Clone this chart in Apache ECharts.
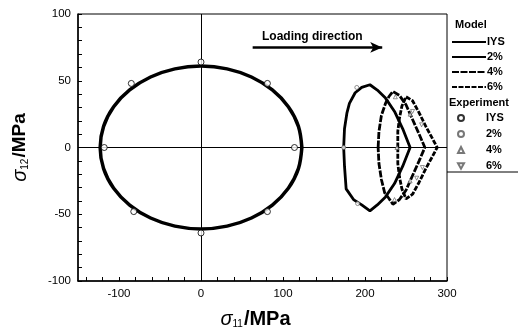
<!DOCTYPE html>
<html>
<head>
<meta charset="utf-8">
<script src="https://cdn.jsdelivr.net/npm/echarts@6/dist/echarts.min.js"></script>
<style>html,body{margin:0;padding:0;background:#fff}#c{width:518px;height:330px}</style>
</head>
<body>
<div id="c"></div>
<script>
// ---- data (sigma11, sigma12 in MPa) ----
const modelIYS = [[123,0],[118.8,15.8],[106.5,30.5],[87,43.1],[61.5,52.8],[31.8,58.9],[0,61],[-31.8,58.9],[-61.5,52.8],[-87,43.1],[-106.5,30.5],[-118.8,15.8],[-123,0],[-118.8,-15.8],[-106.5,-30.5],[-87,-43.1],[-61.5,-52.8],[-31.8,-58.9],[0,-61],[31.8,-58.9],[61.5,-52.8],[87,-43.1],[106.5,-30.5],[118.8,-15.8],[123,0]];
const model2 = [[174,0],[175,14],[178,26],[181,33],[188,41],[196,45],[206,47],[215,43],[225,37],[236,27],[246,14],[255,0],[246,-14],[236,-27],[225,-37],[215,-43],[206,-47.5],[196,-43],[186,-39],[177,-31],[175,-14],[174,0]];
const model4 = [[216,0],[217,12],[220,24],[225,33],[229,38],[234,42],[242,39],[250,32],[258,21],[266,10],[273,0],[266,-10],[258,-21],[250,-32],[242,-39],[234,-42.5],[229,-38],[224,-34],[220,-24],[217,-12],[216,0]];
const model6 = [[240,0],[240,12],[242,22],[245,31],[250,38],[258,35],[266,26],[274,16],[282,7],[288,0],[282,-7],[274,-16],[266,-26],[258,-35],[250,-38.5],[245,-31],[242,-22],[240,-12],[240,0]];
const expIYS = [[0,64],[81,48],[114,0],[81,-48],[0,-64],[-82,-48],[-118,0],[-85,48]];
const exp2 = [[174,0],[190,45],[191,-42]];
const exp4 = [[239,0],[237,38],[236,-39],[255,25],[255,-25]];
const exp6 = [[258,27],[269,17],[263,-23],[270,-15]];
const legendLabels = ['IYS','2%','4%','6%'];
const xLabelValues = [-100,0,100,200,300];
const xTickValues = [-140,-120,-100,-80,-60,-40,-20,0,20,40,60,80,100,120,140,160,180,200,220,240,260,280,300];
const yTickValues = [-100,-50,0,50,100];
const yTickMarks = [-100,-90,-80,-70,-60,-50,-40,-30,-20,-10,0,10,20,30,40,50,60,70,80,90,100];
const arrowFrom = [63,75], arrowTo = [221,75];

const FONT = 'Liberation Sans, Arial, sans-serif';
const chart = echarts.init(document.getElementById('c'), null, {renderer:'canvas'});
const richX = {
  s:{fontFamily:FONT,fontStyle:'italic',fontSize:20,color:'#000'},
  sub:{fontFamily:FONT,fontSize:10,color:'#000',padding:[10,1,0,0]},
  t:{fontFamily:FONT,fontWeight:'bold',fontSize:20,color:'#000'}
};
const richY = {
  s:{fontFamily:FONT,fontStyle:'italic',fontSize:20,color:'#000'},
  sub:{fontFamily:FONT,fontSize:10,color:'#000',padding:[10,1,0,0]},
  t:{fontFamily:FONT,fontWeight:'bold',fontSize:19,color:'#000'}
};
const strip = n => n.replace(/^[ME] /,'');
const lab = {color:'#000',fontFamily:FONT,fontSize:11.5,margin:7};
chart.setOption({
  animation:false,
  backgroundColor:'#fff',
  grid:{left:78,top:14,right:71,bottom:49,show:true,borderColor:'#000',borderWidth:1,backgroundColor:'transparent',outerBoundsMode:'none',containLabel:false},
  xAxis:{
    type:'value',min:-150,max:300,
    axisLine:{show:true,onZero:false,lineStyle:{color:'#000',width:1.5}},
    axisTick:{show:true,inside:true,length:4,customValues:xTickValues,lineStyle:{color:'#000'}},
    axisLabel:Object.assign({customValues:xLabelValues},lab),
    splitLine:{show:false},
    name:'{s|σ}{sub|11}{t|/MPa}',nameLocation:'middle',nameGap:28,
    nameTextStyle:{rich:richX,padding:[0,14,0,0]}
  },
  yAxis:{
    type:'value',min:yTickValues[0],max:yTickValues[yTickValues.length-1],
    axisLine:{show:true,onZero:false,lineStyle:{color:'#000',width:1.5}},
    axisTick:{show:true,inside:true,length:4,customValues:yTickMarks,lineStyle:{color:'#000'}},
    axisLabel:Object.assign({customValues:yTickValues},lab),
    splitLine:{show:false},
    name:'{s|σ}{sub|12}{t|/MPa}',nameLocation:'middle',nameGap:48,
    nameTextStyle:{rich:richY}
  },
  legend:[{
    orient:'vertical',left:451,top:36.5,padding:0,itemWidth:34,itemHeight:12,itemGap:4,
    data:legendLabels.map(l=>'M '+l),formatter:strip,
    itemStyle:{opacity:0},
    textStyle:{fontFamily:FONT,fontWeight:'bold',fontSize:11,color:'#000',padding:[0,0,0,-4]},
    selectedMode:false
  },{
    orient:'vertical',left:457,top:112.5,padding:0,itemWidth:6,itemHeight:6,itemGap:5,
    data:legendLabels.map(l=>'E '+l),formatter:strip,
    textStyle:{fontFamily:FONT,fontWeight:'bold',fontSize:11,color:'#000',padding:[0,0,0,17]},
    selectedMode:false
  }],
  graphic:[
    {type:'text',left:455,top:19,style:{text:'Model',font:'bold 11px '+FONT,fill:'#000'}},
    {type:'text',left:449,top:97,style:{text:'Experiment',font:'bold 11px '+FONT,fill:'#000'}},
    {type:'line',shape:{x1:447,y1:172,x2:518,y2:172},style:{stroke:'#000',lineWidth:1}},
    {type:'text',left:262,top:31,style:{text:'Loading direction',font:'bold 12px '+FONT,fill:'#000'}}
  ],
  series:[
    {name:'M IYS',type:'line',data:modelIYS,smooth:0.35,symbol:'none',lineStyle:{color:'#000',width:3.5},itemStyle:{color:'#000'},z:3,
     markLine:{silent:true,symbol:'none',label:{show:false},lineStyle:{color:'#000',width:1,type:'solid'},data:[{xAxis:0},{yAxis:0}]}},
    {name:'M 2%',type:'line',data:model2,symbol:'none',lineStyle:{color:'#000',width:2.8},itemStyle:{color:'#000'},z:3,
     markLine:{silent:true,symbol:['none','arrow'],symbolSize:[8,12],label:{show:false},lineStyle:{color:'#000',width:2.5,type:'solid'},
       data:[[{coord:arrowFrom},{coord:arrowTo}]]}},
    {name:'M 4%',type:'line',data:model4,symbol:'none',lineStyle:{color:'#000',width:2.8,type:[7,1.5]},itemStyle:{color:'#000'},z:3},
    {name:'M 6%',type:'line',data:model6,symbol:'none',lineStyle:{color:'#000',width:2.8,type:[5,1.5]},itemStyle:{color:'#000'},z:3},
    {name:'E IYS',type:'scatter',data:expIYS,symbol:'circle',symbolSize:6,itemStyle:{color:'#fff',borderColor:'#000',borderWidth:1},z:5},
    {name:'E 2%',type:'scatter',data:exp2,symbol:'circle',symbolSize:4,itemStyle:{color:'#fff',borderColor:'#555',borderWidth:0.8},z:5},
    {name:'E 4%',type:'scatter',data:exp4,symbol:'triangle',symbolSize:4,itemStyle:{color:'#fff',borderColor:'#555',borderWidth:0.8},z:5},
    {name:'E 6%',type:'scatter',data:exp6,symbol:'path://M0,0L10,0L5,9Z',symbolSize:4,itemStyle:{color:'#fff',borderColor:'#555',borderWidth:0.8},z:5}
  ]
});
</script>
</body>
</html>
